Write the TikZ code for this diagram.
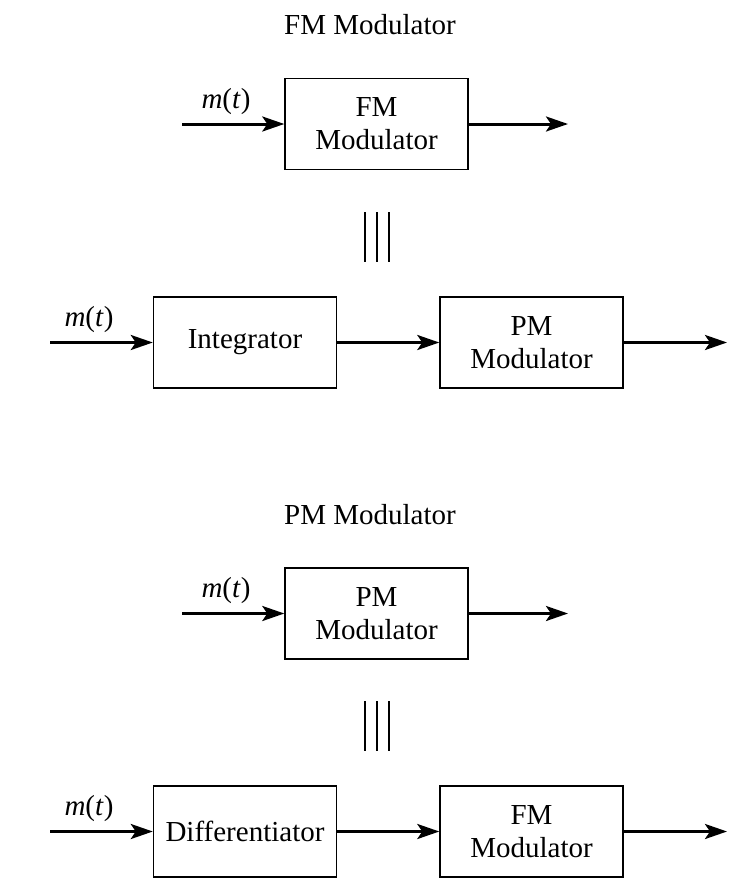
\documentclass[tikz,border=0pt]{standalone}
\usepackage{fontspec}
\setmainfont{Liberation Serif}
\usetikzlibrary{arrows.meta}
\tikzset{
  blk/.style={draw, line width=1.4pt, minimum width=183pt, minimum height=91pt, align=center, inner sep=0pt, font=\fontsize{29}{33}\selectfont},
  sig/.style={line width=3pt, -{Stealth[length=22pt, width=15pt, inset=5pt]}},
  lbl/.style={font=\fontsize{29}{33}\selectfont, inner sep=0pt},
  eqbar/.style={line width=1.5pt},
}
\newcommand{\mt}{\textit{m}(\textit{t})}
\begin{document}
\begin{tikzpicture}[x=1pt,y=-1pt]
\useasboundingbox (0,0) rectangle (740,892);
% ---------- FM half ----------
\node[lbl] (t1) at (370,25) {FM Modulator};
\node[blk] (fm1) at (376.5,124) {FM\\Modulator};
\coordinate (in1) at (182,124);
\coordinate (out1) at (568,124);
\draw[sig] (in1) -- (fm1.west);
\draw[sig] (fm1.east) -- (out1);
\node[lbl] (m1) at (226,102) {\mt};
\coordinate (eq1) at (377,237);
\draw[eqbar] ([shift={(-12,-25)}]eq1) -- ([shift={(-12,25)}]eq1);
\draw[eqbar] ([shift={(0,-25)}]eq1) -- ([shift={(0,25)}]eq1);
\draw[eqbar] ([shift={(12,-25)}]eq1) -- ([shift={(12,25)}]eq1);
\node[blk] (int) at (245,342.5) {Integrator};
\node[blk] (pm2) at (531.5,342.5) {PM\\Modulator};
\coordinate (in2) at (50,342.5);
\coordinate (out2) at (727,342.5);
\draw[sig] (in2) -- (int.west);
\draw[sig] (int.east) -- (pm2.west);
\draw[sig] (pm2.east) -- (out2);
\node[lbl] (m2) at (89,320) {\mt};
% ---------- PM half ----------
\node[lbl] (t2) at (370,515) {PM Modulator};
\node[blk] (pm1) at (376.5,613.5) {PM\\Modulator};
\coordinate (in3) at (182,613.5);
\coordinate (out3) at (568,613.5);
\draw[sig] (in3) -- (pm1.west);
\draw[sig] (pm1.east) -- (out3);
\node[lbl] (m3) at (226,591) {\mt};
\coordinate (eq2) at (377,726);
\draw[eqbar] ([shift={(-12,-25)}]eq2) -- ([shift={(-12,25)}]eq2);
\draw[eqbar] ([shift={(0,-25)}]eq2) -- ([shift={(0,25)}]eq2);
\draw[eqbar] ([shift={(12,-25)}]eq2) -- ([shift={(12,25)}]eq2);
\node[blk] (dif) at (245,831.5) {Differentiator};
\node[blk] (fm2) at (531.5,831.5) {FM\\Modulator};
\coordinate (in4) at (50,831.5);
\coordinate (out4) at (727,831.5);
\draw[sig] (in4) -- (dif.west);
\draw[sig] (dif.east) -- (fm2.west);
\draw[sig] (fm2.east) -- (out4);
\node[lbl] (m4) at (89,809) {\mt};
\end{tikzpicture}
\end{document}
